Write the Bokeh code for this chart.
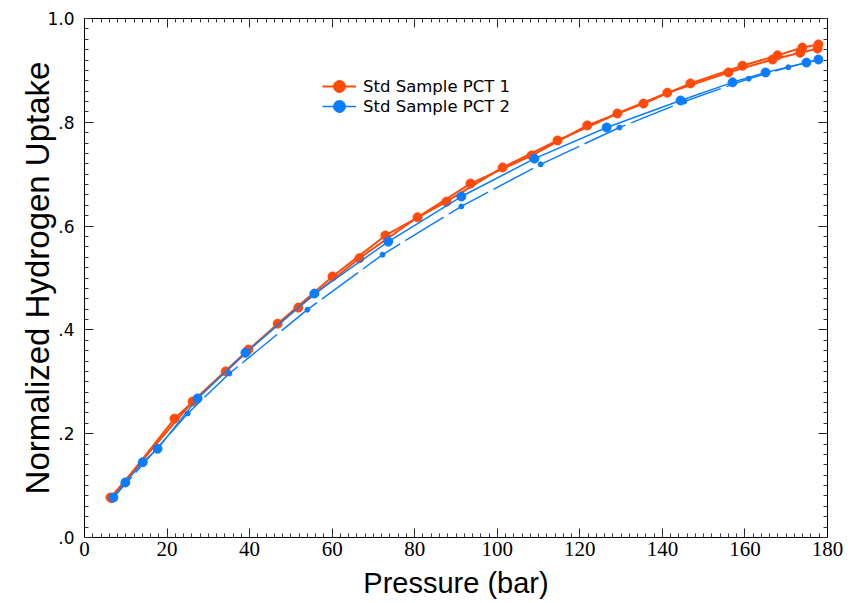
import numpy as np
from bokeh.plotting import figure
from bokeh.models import (Range1d, LinearAxis, FixedTicker, CustomJSTickFormatter,
                          Legend, LegendItem)
from bokeh.embed import file_html
from bokeh.resources import INLINE

# ---- data (pressure in bar, normalized uptake) ----
pct1_ads_p = [6.3, 26.2, 39.7, 51.8, 66.6, 80.7, 93.5, 108.3, 121.8, 135.4, 146.8, 159.4, 167.9, 173.9, 177.8]
pct1_ads_u = [0.077, 0.262, 0.362, 0.443, 0.538, 0.617, 0.682, 0.736, 0.794, 0.836, 0.875, 0.909, 0.929, 0.944, 0.950]
pct1_des_p = [177.6, 173.4, 166.7, 156.0, 141.2, 129.1, 114.6, 101.3, 87.7, 72.9, 60.1, 46.8, 34.2, 21.8, 6.6]
pct1_des_u = [0.942, 0.934, 0.921, 0.896, 0.857, 0.817, 0.765, 0.713, 0.647, 0.582, 0.503, 0.412, 0.320, 0.229, 0.076]

pct2_ads_p = [7.0, 9.9, 14.1, 17.7, 27.4, 39.0, 55.7, 73.6, 91.3, 109.0, 126.5, 144.4, 157.0, 165.0, 174.9, 177.8]
pct2_ads_u = [0.077, 0.106, 0.145, 0.171, 0.268, 0.356, 0.470, 0.570, 0.657, 0.730, 0.790, 0.842, 0.877, 0.896, 0.915, 0.921]
pct2_des_p = [177.8, 170.5, 160.9, 145.3, 129.6, 110.5, 91.3, 72.2, 54.0, 35.1, 25.0, 7.0]
pct2_des_u = [0.921, 0.906, 0.884, 0.840, 0.790, 0.719, 0.638, 0.545, 0.439, 0.316, 0.239, 0.077]

x_major = [0, 20, 40, 60, 80, 100, 120, 140, 160, 180]
y_major = [0.0, 0.2, 0.4, 0.6, 0.8, 1.0]

RED = "#FF4A0A"
BLUE = "#0A7DFF"

p = figure(width=848, height=603, output_backend="svg", toolbar_location=None,
           x_range=Range1d(0, 180), y_range=Range1d(0, 1.0),
           min_border_left=84, min_border_right=21, min_border_top=18, min_border_bottom=66,
           x_axis_location=None, y_axis_location=None)
p.grid.visible = False
p.outline_line_color = "black"
p.outline_line_width = 1
p.background_fill_color = "white"
p.border_fill_color = "white"

xt = FixedTicker(ticks=x_major, minor_ticks=list(range(0, 181, 2)))
yt = FixedTicker(ticks=y_major, minor_ticks=[round(i * 0.02, 2) for i in range(51)])

def style(ax, labels=True):
    ax.axis_line_color = "black"
    ax.major_tick_in = 9
    ax.major_tick_out = 0
    ax.minor_tick_in = 4
    ax.minor_tick_out = 0
    ax.major_tick_line_color = "#222222"
    ax.minor_tick_line_color = "#333333"
    if not labels:
        ax.major_label_text_color = None
        ax.major_label_text_font_size = "1px"
        ax.major_label_standoff = 0

xb = LinearAxis(ticker=xt, axis_label="Pressure (bar)")
style(xb)
xb.major_label_text_font = "Liberation Sans Narrow"
xb.major_label_text_font_size = "21px"
xb.major_label_text_color = "black"
xb.major_label_standoff = 4
xb.axis_label_text_font = "Liberation Sans"
xb.axis_label_text_font_size = "29px"
xb.axis_label_text_font_style = "normal"
xb.axis_label_text_color = "black"
xb.axis_label_standoff = 8
p.add_layout(xb, "below")

xtp = LinearAxis(ticker=xt)
style(xtp, labels=False)
p.add_layout(xtp, "above")

yl = LinearAxis(ticker=yt, axis_label="Normalized Hydrogen Uptake")
style(yl)
yl.formatter = CustomJSTickFormatter(code="return tick.toFixed(1).replace(/^0/, '');")
yl.major_label_text_font = "DejaVu Sans"
yl.major_label_text_font_size = "17px"
yl.major_label_text_color = "black"
yl.major_label_standoff = 10
yl.axis_label_text_font = "Liberation Sans"
yl.axis_label_text_font_size = "33px"
yl.axis_label_text_font_style = "normal"
yl.axis_label_text_color = "black"
yl.axis_label_standoff = -12
p.add_layout(yl, "left")

yr = LinearAxis(ticker=yt)
style(yr, labels=False)
p.add_layout(yr, "right")

# ---- series ----
r1a = p.line(pct1_ads_p, pct1_ads_u, line_color=RED, line_width=2)
r1b = p.line(pct1_des_p, pct1_des_u, line_color=RED, line_width=2)
s1a = p.scatter(pct1_ads_p, pct1_ads_u, marker="circle", size=9, fill_color=RED, line_color=RED)
s1b = p.scatter(pct1_des_p, pct1_des_u, marker="circle", size=9, fill_color=RED, line_color=RED)

r2b = p.line(pct2_des_p, pct2_des_u, line_color=BLUE, line_width=1.5, line_dash="45 6")
s2b = p.scatter(pct2_des_p, pct2_des_u, marker="circle", size=5, fill_color=BLUE, line_color=BLUE)
r2a = p.line(pct2_ads_p, pct2_ads_u, line_color=BLUE, line_width=1.5)
s2a = p.scatter(pct2_ads_p, pct2_ads_u, marker="circle", size=9, fill_color=BLUE, line_color=BLUE)

def make_legend(label, rends, loc):
    lg = Legend(items=[LegendItem(label=label, renderers=rends)], location=loc)
    lg.border_line_color = None
    lg.background_fill_alpha = 0
    lg.padding = 0
    lg.margin = 0
    lg.glyph_width = 34
    lg.glyph_height = 30
    lg.label_height = 20
    lg.label_text_font = "DejaVu Sans"
    lg.label_text_font_size = "16.5px"
    lg.label_text_color = "black"
    lg.label_standoff = 7
    return lg

p.add_layout(make_legend("Std Sample PCT 1", [r1a, s1a], (238, 436)), "center")
p.add_layout(make_legend("Std Sample PCT 2", [r2a, s2a], (238, 416)), "center")

open("out.html", "w").write(file_html(p, INLINE))
